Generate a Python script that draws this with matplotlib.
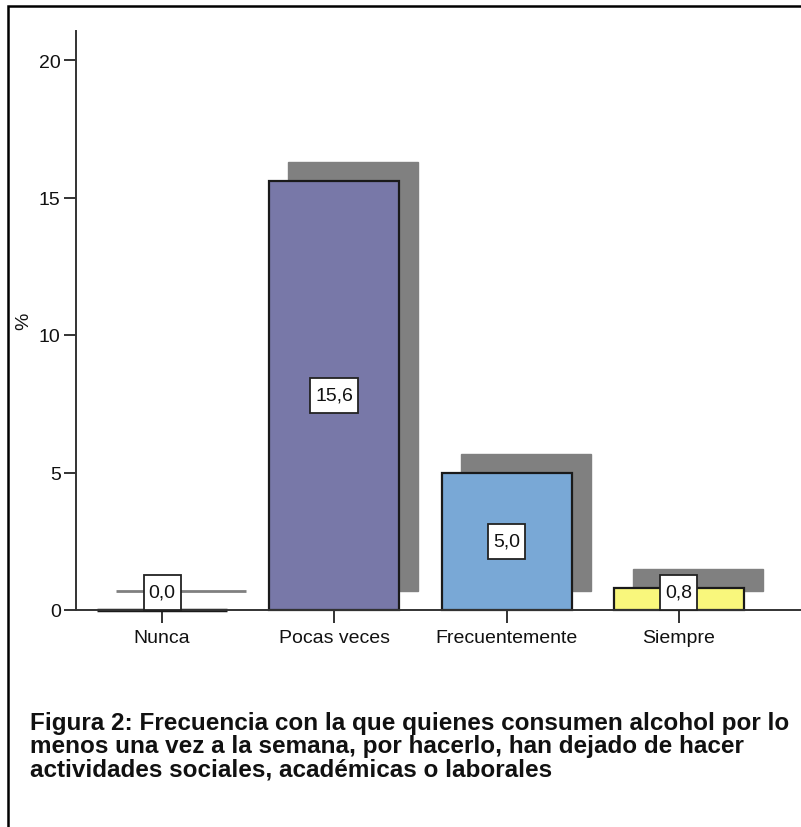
import matplotlib
matplotlib.use("Agg")
import matplotlib.pyplot as plt
import matplotlib.transforms as mtransforms
from matplotlib.patches import Rectangle

categories = ["Nunca", "Pocas veces", "Frecuentemente", "Siempre"]
values = [0.0, 15.6, 5.0, 0.8]
value_labels = ["0,0", "15,6", "5,0", "0,8"]
bar_colors = ["#7878A8", "#7878A8", "#79A8D6", "#F9F77C"]
yticks = [0, 5, 10, 15, 20]
caption = ("Figura 2: Frecuencia con la que quienes consumen alcohol por lo\n"
           "menos una vez a la semana, por hacerlo, han dejado de hacer\n"
           "actividades sociales, académicas o laborales")

plt.rcParams["font.family"] = ["Liberation Sans", "DejaVu Sans"]

W, H, DPI = 801, 828, 100
fig = plt.figure(figsize=(W / DPI, H / DPI), dpi=DPI)
fig.patch.set_facecolor("white")

# axes box in pixel terms
left_px, right_px, top_px, bottom_px = 76, 801, 32, 611
ax = fig.add_axes([left_px / W, 1 - bottom_px / H,
                   (right_px - left_px) / W, (bottom_px - top_px) / H])

px_per_unit_y = 137.5 / 5
ymax = (bottom_px - top_px) / px_per_unit_y
cat_px = 172.3
x0 = (left_px - 162) / cat_px
x1 = (right_px - 162) / cat_px
ax.set_xlim(x0, x1)
ax.set_ylim(0, ymax)

bar_w = 130 / cat_px
shadow_tr = mtransforms.offset_copy(ax.transData, fig=fig, x=19, y=19, units="dots")

for i, v in enumerate(values):
    # drop shadow
    ax.add_patch(Rectangle((i - bar_w / 2, 0), bar_w, v, transform=shadow_tr,
                           facecolor="#808080", edgecolor="#808080",
                           lw=1.0 if v > 0 else 2.0, zorder=1, clip_on=False))
for i, v in enumerate(values):
    ax.add_patch(Rectangle((i - bar_w / 2, 0), bar_w, v,
                           facecolor=bar_colors[i], edgecolor="#1a1a1a",
                           lw=1.6 if v > 0 else 2.5, zorder=2, clip_on=False))

# value labels in boxes sized from the text width (pixels), centred on the bar
box_h = 35
min_center = (box_h / 2) / px_per_unit_y
renderer = fig.canvas.get_renderer()
for i, v in enumerate(values):
    yc = max(v / 2, min_center)
    t = ax.text(i, yc, value_labels[i], ha="center", va="center",
                fontsize=14, color="#111111", zorder=5)
    box_w = t.get_window_extent(renderer).width + 10
    place = mtransforms.IdentityTransform() + \
        mtransforms.ScaledTranslation(i, yc, ax.transData)
    ax.add_patch(Rectangle((-box_w / 2, -box_h / 2), box_w, box_h, transform=place,
                           facecolor="white", edgecolor="#222222", lw=1.3,
                           zorder=4, clip_on=False))

ax.set_xticks(range(len(categories)))
ax.set_xticklabels(categories, fontsize=14, color="#111111")
ax.set_yticks(yticks)
ax.set_yticklabels([str(t) for t in yticks], fontsize=14, color="#111111")
ax.tick_params(axis="both", direction="out", length=9, width=1.4, color="#333333")
ax.tick_params(axis="x", pad=5)
ax.tick_params(axis="y", pad=2)

for s in ["top", "right"]:
    ax.spines[s].set_visible(False)
for s in ["left", "bottom"]:
    ax.spines[s].set_color("#333333")
    ax.spines[s].set_linewidth(1.4)

ax.set_ylabel("%", fontsize=14, color="#111111")
ax.yaxis.set_label_coords((32 - left_px) / (right_px - left_px), 0.5)

# caption
fig.text(30 / W, 1 - 712 / H, caption, ha="left", va="top",
         fontsize=17.5, fontweight="bold", color="#111111", linespacing=1.0)

# outer frame
fig.patches.append(Rectangle((8 / W, -0.1), 1.2, 1 - 7 / H + 0.1,
                             transform=fig.transFigure, fill=False,
                             edgecolor="black", lw=1.8))

fig.savefig("out.png", dpi=DPI, facecolor="white")
